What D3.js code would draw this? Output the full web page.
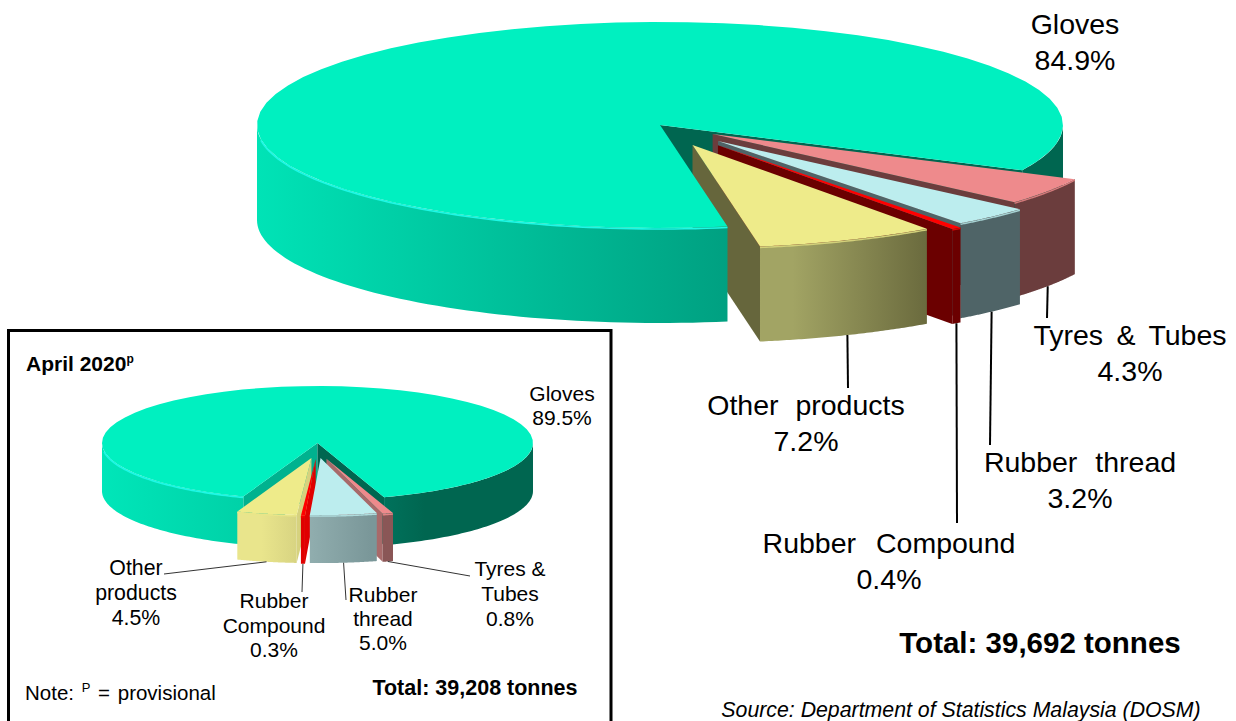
<!DOCTYPE html>
<html>
<head>
<meta charset="utf-8">
<script src="https://cdn.jsdelivr.net/npm/d3@7"></script>
<style>
    html, body { margin: 0; padding: 0; background: #fff; }
    text { font-family: "Liberation Sans", Arial, sans-serif; fill: #000; }
</style>
</head>
<body>
<svg id="chart" width="1236" height="721"></svg>
<script>
// slices run clockwise from the start of the pulled-out group, gloves last
var categories = ["Tyres & Tubes", "Rubber thread", "Rubber Compound", "Other products", "Gloves"];
var valuesMay = [4.3, 3.2, 0.4, 7.2, 84.9];
var valuesApril = [0.8, 5.0, 0.3, 4.5, 89.5];

var topColors = ["#ee8a8c", "#bcedee", "#ff0000", "#eeeb8a", "#00f0c0"];

var svg = d3.select("#chart");
var defs = svg.append("defs");
var lineGen = d3.line();
var rad = Math.PI / 180;

// horizontal shading for the curved sides
function sideGradient(id, x0, x1, stops){
    var g = defs.append("linearGradient").attr("id", id)
        .attr("gradientUnits", "userSpaceOnUse")
        .attr("x1", x0).attr("x2", x1).attr("y1", 0).attr("y2", 0);
    stops.forEach(function(s){
        g.append("stop").attr("offset", s[0]).attr("stop-color", s[1]);
    });
    return "url(#" + id + ")";
}

function drawPie(opt){
    var pie = d3.pie().sort(null).value(function(d){ return d; })
        .startAngle(opt.start * rad).endAngle(opt.start * rad + 2 * Math.PI);
    var arcs = pie(opt.values);
    var g = svg.append("g");
    var order = [4, 0, 1, 2, 3];

    function shift(d, i){
        var mid = (d.startAngle + d.endAngle) / 2;
        return [opt.rx * Math.sin(mid) * opt.pull[i] * opt.pullX, -opt.ry * Math.cos(mid) * opt.pull[i]];
    }
    function pt(a, dx, dy, r){
        return [opt.cx + dx + opt.rx * r * Math.sin(a), opt.cy + dy - opt.ry * r * Math.cos(a)];
    }
    function arcPts(a0, a1, dx, dy, drop){
        return d3.range(0, 61).map(function(i){
            var p = pt(a0 + (a1 - a0) * i / 60, dx, dy, 1);
            return [p[0], p[1] + drop];
        });
    }
    function wall(a, dx, dy, fill){
        var c = pt(a, dx, dy, 0), e = pt(a, dx, dy, 1);
        g.append("path")
            .attr("d", lineGen([c, e, [e[0], e[1] + opt.depth], [c[0], c[1] + opt.depth]]) + "Z")
            .attr("fill", fill);
    }
    function rim(a0, a1, dx, dy, fill){
        if (a1 <= a0) return;
        var upper = arcPts(a0, a1, dx, dy, 0);
        var lower = arcPts(a0, a1, dx, dy, opt.depth).reverse();
        g.append("path").attr("d", lineGen(upper.concat(lower)) + "Z").attr("fill", fill);
    }

    // walls go down first, the gloves body hides part of the yellow one
    opt.wallOrder.forEach(function(i){
        var d = arcs[i], off = shift(d, i);
        // only walls turned towards the viewer
        if (Math.cos(d.startAngle + Math.PI / 2) > 0) wall(d.startAngle, off[0], off[1], i == 4 ? opt.glovesLeftWall : opt.walls[i]);
        if (Math.cos(d.endAngle - Math.PI / 2) > 0) wall(d.endAngle, off[0], off[1], opt.walls[i]);
    });

    order.forEach(function(i){
        var d = arcs[i], off = shift(d, i);
        var a0 = d.startAngle, a1 = d.endAngle, mid = (a0 + a1) / 2;
        var dx = off[0], dy = off[1];

        // visible part of the outer side is between 90 and 270 degrees
        var fill = sideGradient(opt.id + "-side-" + i, opt.sideX(i, dx)[0], opt.sideX(i, dx)[1], opt.sideStops[i]);
        [0, 2 * Math.PI].forEach(function(t){
            rim(Math.max(a0, Math.PI / 2 + t), Math.min(a1, 1.5 * Math.PI + t), dx, dy, fill);
        });

        var top = [pt(0, dx, dy, 0)].concat(arcPts(a0, a1, dx, dy, 0));
        g.append("path").attr("d", lineGen(top) + "Z").attr("fill", topColors[i]);

        // soft light edge on the front of each top
        var hl = i == 4
            ? arcPts(Math.max(a0, Math.PI / 2), Math.min(a1, opt.glintEnd * rad), dx, dy, 1)
            : arcPts(a0, a1, dx, dy, 1);
        g.append("path").attr("d", lineGen(hl)).attr("fill", "none")
            .attr("stroke", i == 4 ? "#1ef8e6" : d3.interpolateRgb(topColors[i], opt.walls[i])(0.2))
            .attr("stroke-width", i == 4 ? 1.6 : 1.4);

        // leader from the bottom of the side down to the label
        var foot = pt(mid, dx, dy, 1);
        foot[1] += opt.depth;
        if (i < 4) {
            g.append("path").attr("d", lineGen([foot, opt.leaderEnd[i]]))
                .attr("fill", "none").attr("stroke", opt.leaderColor)
                .attr("stroke-width", opt.leaderWidth);
        }
    });
}

function label(lines, x, y, size, lineHeight, spacing){
    lines.forEach(function(t, i){
        svg.append("text").attr("x", x).attr("y", y + i * lineHeight)
            .attr("text-anchor", "middle").attr("font-size", size)
            .attr("word-spacing", spacing || 0).text(t);
    });
}

// inset frame, runs off the bottom of the page
svg.append("path").attr("d", "M8.5,730V330.5H611V730")
    .attr("fill", "none").attr("stroke", "#000").attr("stroke-width", 3);

drawPie({
    id: "main", values: valuesMay, start: 116,
    cx: 660, cy: 125, rx: 403, ry: 103, depth: 95,
    pull: [0.157, 0.212, 0.243, 0.21, 0], pullX: 1, glintEnd: 262,
    wallOrder: [4, 0, 1, 2, 3],
    glovesLeftWall: "#006650",
    walls: ["#6b3d3d", "#4f6467", "#6b0000", "#66663c", "#006650"],
    sideX: function(i, dx){ return i == 4 ? [258, 1063] : [660 + dx + 100, 660 + dx + 240]; },
    sideStops: [
        [[0, "#6b3d3d"], [1, "#6b3d3d"]],
        [[0, "#4f6467"], [1, "#4f6467"]],
        [[0, "#6b0000"], [1, "#6b0000"]],
        [[0, "#a2a464"], [1, "#68683c"]],
        [[0, "#00e3b6"], [0.586, "#00a081"], [0.587, "#006650"], [1, "#006650"]]
    ],
    leaderEnd: [[1047, 318], [990, 445], [957, 523], [848, 388]],
    leaderColor: "#000", leaderWidth: 2
});

drawPie({
    id: "inset", values: valuesApril, start: 162,
    cx: 317.5, cy: 443, rx: 215.5, ry: 57, depth: 48,
    pull: [0.29, 0.266, 0.28, 0.27, 0], pullX: 0.5, glintEnd: 262,
    // here the red wall has to stay in front of the yellow one
    wallOrder: [4, 0, 1, 3, 2],
    glovesLeftWall: "#00b28f",
    walls: ["#a86a6a", "#7a9799", "#e00000", "#d6d27e", "#006650"],
    sideX: function(i, dx){ return i == 4 ? [102, 533] : [317.5 + dx - 50, 317.5 + dx + 50]; },
    sideStops: [
        [[0, "#a86a6a"], [1, "#8a5656"]],
        [[0, "#9fbcbc"], [1, "#7a9799"]],
        [[0, "#e00000"], [1, "#e00000"]],
        [[0, "#e9e58c"], [1, "#b8b46e"]],
        [[0, "#00e6b9"], [0.32, "#00d2a8"], [0.65, "#00725c"], [0.75, "#006650"], [1, "#006650"]]
    ],
    leaderEnd: [[470, 576], [346, 600], [302, 592], [164, 574]],
    leaderColor: "#333", leaderWidth: 1
});

// main labels
label(["Gloves", "84.9%"], 1075, 34, 28.5, 36);
label(["Tyres & Tubes", "4.3%"], 1130, 345, 28.5, 36, 5.5);
label(["Rubber thread", "3.2%"], 1080, 472, 28.5, 36, 10);
label(["Rubber Compound", "0.4%"], 889, 553, 28.5, 36, 12);
label(["Other products", "7.2%"], 806, 415, 28.5, 36, 9);

svg.append("text").attr("x", 1040).attr("y", 653).attr("text-anchor", "middle")
    .attr("font-size", 29.5).attr("font-weight", "bold").text("Total: 39,692 tonnes");
svg.append("text").attr("x", 961).attr("y", 717).attr("text-anchor", "middle")
    .attr("font-size", 21.3).attr("font-style", "italic")
    .text("Source: Department of Statistics Malaysia (DOSM)");

// inset labels
label(["Gloves", "89.5%"], 562, 401, 21, 24);
label(["Tyres &", "Tubes", "0.8%"], 510, 576, 21, 25);
label(["Rubber", "thread", "5.0%"], 383, 602, 21, 24);
label(["Rubber", "Compound", "0.3%"], 274, 608, 21, 24.5);
label(["Other", "products", "4.5%"], 136, 575, 21.3, 25);

var april = svg.append("text").attr("x", 26).attr("y", 371)
    .attr("font-size", 21).attr("font-weight", "bold").text("April 2020");
april.append("tspan").attr("font-size", 12).attr("dy", -8).text("p");

var note = svg.append("text").attr("x", 25).attr("y", 700).attr("font-size", 20.5).attr("word-spacing", 2).text("Note: ");
note.append("tspan").attr("font-size", 13).attr("dy", -8).text("P");
note.append("tspan").attr("dy", 8).text(" = provisional");

svg.append("text").attr("x", 475).attr("y", 695).attr("text-anchor", "middle")
    .attr("font-size", 21.5).attr("font-weight", "bold").text("Total: 39,208 tonnes");
</script>
</body>
</html>
